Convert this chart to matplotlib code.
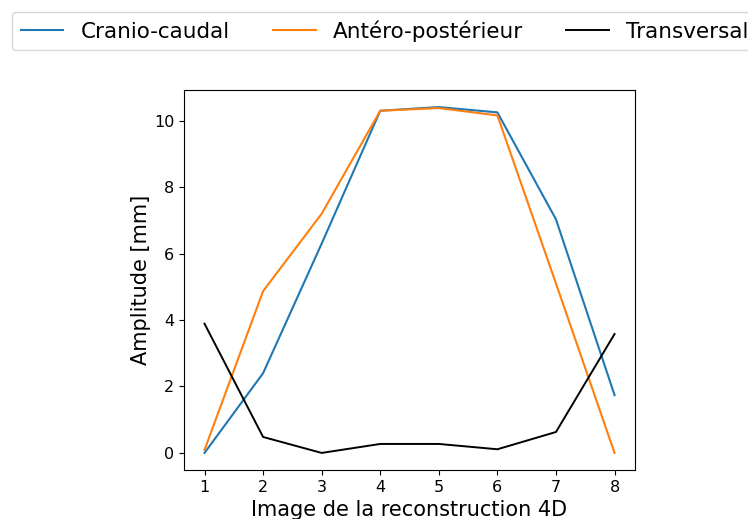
import numpy as np
import matplotlib.pyplot as plt

# amplitude du mouvement par image de la reconstruction 4D
images = [1, 2, 3, 4, 5, 6, 7, 8]
cranio_caudal = [0.0, 2.4, 6.3, 10.3, 10.41, 10.25, 7.03, 1.74]
antero_posterieur = [0.09, 4.87, 7.2, 10.3, 10.38, 10.16, 5.1, 0.0]
transversal = [3.89, 0.48, 0.0, 0.27, 0.27, 0.11, 0.63, 3.58]

fig = plt.figure(figsize=(7.48, 5.19), dpi=100)
ax = fig.add_axes([0.246, 0.094, 0.603, 0.733])

ax.plot(images, cranio_caudal, color='#1f77b4', lw=1.5, label='Cranio-caudal')
ax.plot(images, antero_posterieur, color='#ff7f0e', lw=1.5, label='Antéro-postérieur')
ax.plot(images, transversal, color='black', lw=1.4, label='Transversal')

ax.set_xticks(images)
ax.tick_params(labelsize=11.5)
ax.set_xlabel('Image de la reconstruction 4D', fontsize=15)
ax.set_ylabel('Amplitude [mm]', fontsize=15, labelpad=2)

fig.legend(loc='upper left', bbox_to_anchor=(0.016, 0.9775), ncol=3,
           fontsize=15.45, borderaxespad=0)

fig.savefig('out.png', dpi=100)
